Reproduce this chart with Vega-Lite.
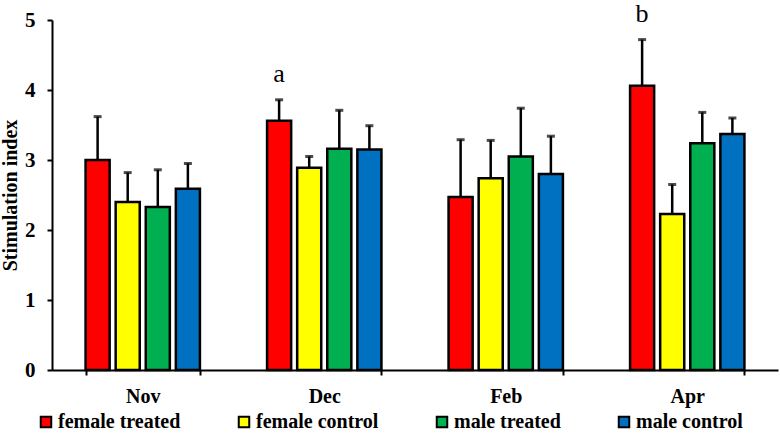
{
  "$schema": "https://vega.github.io/schema/vega-lite/v6.json",
  "width": 726,
  "height": 350,
  "autosize": {"type": "none"},
  "padding": {"left": 52, "top": 20, "right": 2, "bottom": 66},
  "background": "white",
  "config": {
    "view": {"stroke": null},
    "font": "Liberation Serif"
  },
  "data": {
    "values": [
      {"month": "Nov", "group": "female treated", "value": 3.0, "upper": 3.62, "label": ""},
      {"month": "Nov", "group": "female control", "value": 2.4, "upper": 2.82, "label": ""},
      {"month": "Nov", "group": "male treated", "value": 2.33, "upper": 2.86, "label": ""},
      {"month": "Nov", "group": "male control", "value": 2.59, "upper": 2.95, "label": ""},
      {"month": "Dec", "group": "female treated", "value": 3.56, "upper": 3.86, "label": "a"},
      {"month": "Dec", "group": "female control", "value": 2.89, "upper": 3.05, "label": ""},
      {"month": "Dec", "group": "male treated", "value": 3.16, "upper": 3.71, "label": ""},
      {"month": "Dec", "group": "male control", "value": 3.15, "upper": 3.49, "label": ""},
      {"month": "Feb", "group": "female treated", "value": 2.47, "upper": 3.29, "label": ""},
      {"month": "Feb", "group": "female control", "value": 2.74, "upper": 3.28, "label": ""},
      {"month": "Feb", "group": "male treated", "value": 3.05, "upper": 3.74, "label": ""},
      {"month": "Feb", "group": "male control", "value": 2.8, "upper": 3.34, "label": ""},
      {"month": "Apr", "group": "female treated", "value": 4.06, "upper": 4.72, "label": "b"},
      {"month": "Apr", "group": "female control", "value": 2.23, "upper": 2.65, "label": ""},
      {"month": "Apr", "group": "male treated", "value": 3.24, "upper": 3.68, "label": ""},
      {"month": "Apr", "group": "male control", "value": 3.37, "upper": 3.6, "label": ""}
    ]
  },
  "encoding": {
    "x": {
      "field": "month",
      "type": "nominal",
      "sort": ["Nov", "Dec", "Feb", "Apr"],
      "scale": {"paddingInner": 0.37, "paddingOuter": 0.185},
      "axis": {
        "title": null,
        "labelAngle": 0,
        "labelFont": "Liberation Serif",
        "labelFontWeight": "bold",
        "labelFontSize": 20,
        "labelColor": "black",
        "labelPadding": 11,
        "domainColor": "black",
        "domainWidth": 2,
        "tickColor": "black",
        "tickWidth": 2,
        "tickSize": 5,
        "tickBand": "extent"
      }
    },
    "xOffset": {
      "field": "group",
      "type": "nominal",
      "sort": ["female treated", "female control", "male treated", "male control"],
      "scale": {"paddingInner": 0.2, "paddingOuter": 0}
    }
  },
  "layer": [
    {
      "mark": {"type": "bar", "stroke": "black", "strokeWidth": 2.5},
      "encoding": {
        "y": {
          "field": "value",
          "type": "quantitative",
          "scale": {"domain": [0, 5], "nice": false},
          "axis": {
            "title": "Stimulation index",
            "titleFont": "Liberation Serif",
            "titleFontWeight": "bold",
            "titleFontSize": 20,
            "titleColor": "black",
            "titlePadding": 4,
            "values": [0, 1, 2, 3, 4, 5],
            "format": "d",
            "grid": false,
            "labelFont": "Liberation Serif",
            "labelFontWeight": "bold",
            "labelFontSize": 21,
            "labelColor": "black",
            "labelPadding": 12,
            "domainColor": "black",
            "domainWidth": 2,
            "tickColor": "black",
            "tickWidth": 2,
            "tickSize": 5
          }
        },
        "fill": {
          "field": "group",
          "type": "nominal",
          "sort": ["female treated", "female control", "male treated", "male control"],
          "scale": {
            "domain": ["female treated", "female control", "male treated", "male control"],
            "range": ["#FF0000", "#FFFF00", "#00B050", "#0070C0"]
          },
          "legend": {
            "title": null,
            "orient": "none",
            "legendX": -16,
            "legendY": 392,
            "direction": "horizontal",
            "columns": 4,
            "columnPadding": 53,
            "symbolType": "square",
            "symbolSize": 110,
            "symbolStrokeColor": "black",
            "symbolStrokeWidth": 2,
            "labelFont": "Liberation Serif",
            "labelFontWeight": "bold",
            "labelFontSize": 20,
            "labelColor": "black",
            "labelOffset": 2,
            "labelLimit": 300
          }
        }
      }
    },
    {
      "mark": {"type": "rule", "color": "black", "strokeWidth": 2.5},
      "encoding": {
        "y": {"field": "value", "type": "quantitative"},
        "y2": {"field": "upper"}
      }
    },
    {
      "mark": {"type": "tick", "color": "black", "thickness": 3, "size": 8, "orient": "horizontal"},
      "encoding": {
        "y": {"field": "upper", "type": "quantitative"}
      }
    },
    {
      "mark": {"type": "text", "baseline": "alphabetic", "dy": -18, "fontSize": 26, "font": "Liberation Serif", "color": "black"},
      "encoding": {
        "y": {"field": "upper", "type": "quantitative"},
        "text": {"field": "label"}
      }
    }
  ]
}
